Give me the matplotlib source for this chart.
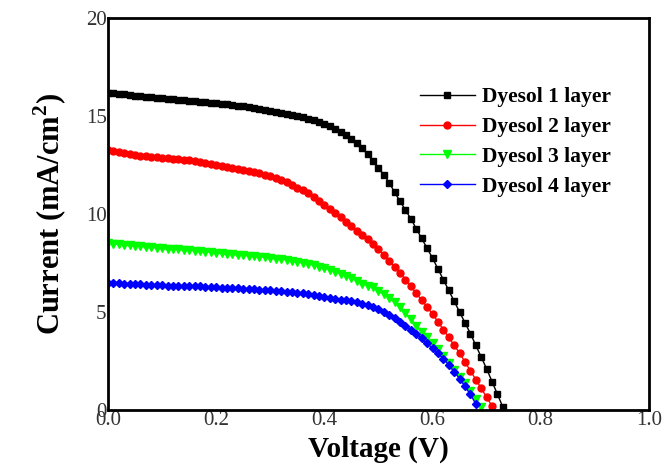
import numpy as np
import matplotlib
matplotlib.use('Agg')
import matplotlib.pyplot as plt

plt.rcParams['font.family'] = ['Liberation Serif', 'DejaVu Serif']
plt.rcParams['mathtext.fontset'] = 'custom'
plt.rcParams['mathtext.rm'] = 'Liberation Serif'
plt.rcParams['mathtext.bf'] = 'Liberation Serif:bold'

# voltage grid (V), one point every 10 mV
voltage = [round(0.01 * i, 2) for i in range(74)]

# current density (mA/cm2)
j_1layer = [16.2, 16.15, 16.1, 16.1, 16.05, 16.0, 16.0, 15.95, 15.95, 15.9,
            15.9, 15.85, 15.85, 15.8, 15.8, 15.75, 15.75, 15.7, 15.7, 15.65,
            15.65, 15.6, 15.6, 15.55, 15.5, 15.5, 15.45, 15.4, 15.35, 15.3,
            15.25, 15.2, 15.15, 15.1, 15.05, 15.0, 14.95, 14.85, 14.8, 14.7,
            14.6, 14.5, 14.35, 14.2, 14.05, 13.85, 13.6, 13.35, 13.05, 12.7,
            12.35, 12.0, 11.6, 11.1, 10.65, 10.2, 9.75, 9.25, 8.75, 8.25,
            7.75, 7.2, 6.65, 6.1, 5.55, 5.0, 4.45, 3.9, 3.3, 2.7,
            2.1, 1.45, 0.8, 0.15]
j_2layer = [13.25, 13.2, 13.15, 13.1, 13.05, 13.0, 12.95, 12.95, 12.9, 12.9,
            12.85, 12.85, 12.8, 12.8, 12.75, 12.75, 12.7, 12.65, 12.6, 12.55,
            12.5, 12.45, 12.4, 12.35, 12.3, 12.25, 12.2, 12.15, 12.1, 12.0,
            11.95, 11.85, 11.75, 11.65, 11.5, 11.35, 11.2, 11.05, 10.85, 10.65,
            10.45, 10.25, 10.05, 9.85, 9.6, 9.4, 9.15, 8.95, 8.7, 8.45,
            8.2, 7.9, 7.6, 7.3, 7.0, 6.65, 6.3, 5.95, 5.6, 5.25,
            4.9, 4.5, 4.1, 3.7, 3.3, 2.9, 2.45, 2.0, 1.55, 1.1,
            0.65, 0.2]
j_3layer = [8.5, 8.45, 8.45, 8.4, 8.4, 8.35, 8.35, 8.3, 8.3, 8.25,
            8.25, 8.2, 8.2, 8.2, 8.15, 8.15, 8.1, 8.1, 8.05, 8.05,
            8.0, 8.0, 7.95, 7.95, 7.9, 7.9, 7.85, 7.85, 7.8, 7.8,
            7.75, 7.7, 7.7, 7.65, 7.6, 7.55, 7.5, 7.45, 7.4, 7.3,
            7.25, 7.15, 7.05, 6.95, 6.85, 6.75, 6.6, 6.45, 6.35, 6.25,
            6.05, 5.9, 5.7, 5.5, 5.25, 4.95, 4.65, 4.3, 4.0, 3.7,
            3.4, 3.1, 2.75, 2.4, 2.05, 1.7, 1.35, 0.95, 0.55, 0.15]
j_4layer = [6.5, 6.5, 6.5, 6.45, 6.45, 6.45, 6.45, 6.4, 6.4, 6.4,
            6.4, 6.35, 6.35, 6.35, 6.3, 6.3, 6.3, 6.3, 6.25, 6.25,
            6.25, 6.2, 6.2, 6.2, 6.2, 6.15, 6.15, 6.15, 6.1, 6.1,
            6.1, 6.05, 6.05, 6.0, 6.0, 5.95, 5.95, 5.9, 5.85, 5.8,
            5.75, 5.7, 5.65, 5.6, 5.6, 5.55, 5.5, 5.4, 5.35, 5.25,
            5.15, 5.0, 4.85, 4.7, 4.5, 4.3, 4.1, 3.9, 3.65, 3.4,
            3.15, 2.9, 2.6, 2.3, 1.95, 1.6, 1.2, 0.8, 0.3]

labels = ['Dyesol 1 layer', 'Dyesol 2 layer', 'Dyesol 3 layer', 'Dyesol 4 layer']
series = [j_1layer, j_2layer, j_3layer, j_4layer]
colors = ['#000000', '#ff0000', '#00ff00', '#0000ff']
markers = ['s', 'o', 'v', 'D']
msizes = [4.5, 5, 5.5, 4.5]

fig = plt.figure(figsize=(6.71, 4.75), dpi=100)
ax = fig.add_axes([0.161, 0.137, 0.806, 0.825])

for j, lab, c, m, ms in zip(series, labels, colors, markers, msizes):
    ax.plot(voltage[:len(j)], j, color=c, marker=m, markersize=ms,
            linewidth=1, label=lab)

ax.set_xlim(0, 1.0)
ax.set_ylim(0, 20)
ax.set_xticks([0.0, 0.2, 0.4, 0.6, 0.8, 1.0])
ax.set_xticklabels(['0.0', '0.2', '0.4', '0.6', '0.8', '1.0'])
ax.set_yticks([0, 5, 10, 15, 20])
ax.tick_params(length=0, labelsize=15, pad=1, labelcolor='#333333')
for s in ax.spines.values():
    s.set_linewidth(2)

ax.set_xlabel('Voltage (V)', fontsize=21, fontweight='bold', labelpad=4)
ax.set_ylabel(r'Current (mA/cm$^{\mathbf{2}}$)', fontsize=22,
              fontweight='bold', labelpad=12)

leg = ax.legend(loc='upper left', bbox_to_anchor=(0.56, 0.845), frameon=False,
                prop={'weight': 'bold', 'size': 15.5}, handlelength=2.6,
                handletextpad=0.3, labelspacing=0.45, borderaxespad=0)

fig.savefig('out.png', dpi=100)
